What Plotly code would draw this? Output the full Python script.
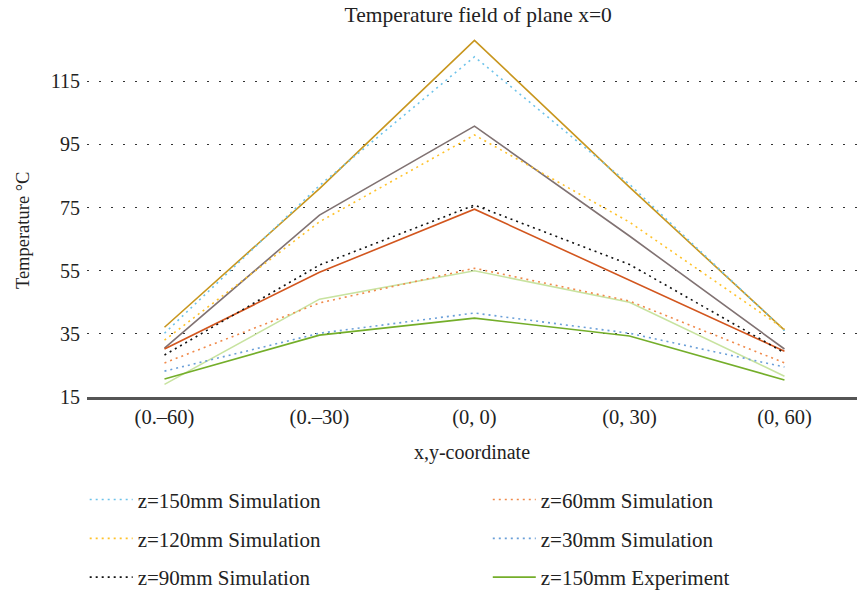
import plotly.graph_objects as go

categories = ["(0.\u201360)", "(0.\u201330)", "(0, 0)", "(0, 30)", "(0, 60)"]

# Simulation series (dotted)
sim_150 = [35.2, 82.0, 122.8, 82.4, 36.0]
sim_120 = [33.0, 70.5, 98.0, 70.4, 36.5]
sim_90 = [28.3, 56.8, 75.8, 57.0, 29.0]
sim_60 = [25.8, 44.8, 55.8, 45.4, 25.8]
sim_30 = [23.2, 35.2, 41.6, 35.2, 24.5]

# Experiment series (solid)
exp_a = [37.1, 81.0, 128.0, 81.5, 36.2]
exp_b = [30.5, 72.6, 100.8, 66.0, 30.2]
exp_c = [30.2, 54.5, 74.5, 52.0, 29.5]
exp_d = [19.0, 46.0, 55.0, 45.0, 21.6]
exp_150 = [20.7, 34.6, 40.0, 34.3, 20.4]

FONT = "Liberation Serif"
TXT = "#222222"
DOT = "2px,4px"

fig = go.Figure()

def sim(y, name, color, legend):
    fig.add_trace(go.Scatter(
        x=categories, y=y, name=name, mode="lines",
        line=dict(color=color, width=1.6, dash=DOT),
        legend=legend, legendgroup=name))

def exp(y, name, color, show, legend="legend"):
    fig.add_trace(go.Scatter(
        x=categories, y=y, name=name, mode="lines",
        line=dict(color=color, width=1.6),
        showlegend=show, legend=legend, legendgroup=name))

exp(exp_a, "Experiment A", "#C8961E", False)
exp(exp_b, "Experiment B", "#807272", False)
exp(exp_c, "Experiment C", "#D2561E", False)
exp(exp_d, "Experiment D", "#C8E3A0", False)

sim(sim_150, "z=150mm Simulation", "#6EC3EA", "legend")
sim(sim_120, "z=120mm Simulation", "#FFC22A", "legend")
sim(sim_90, "z=90mm Simulation", "#111111", "legend")
sim(sim_60, "z=60mm Simulation", "#F08A4B", "legend2")
sim(sim_30, "z=30mm Simulation", "#6A9FD8", "legend2")
exp(exp_150, "z=150mm Experiment", "#74AE2A", True, "legend2")

legend_common = dict(
    orientation="v", traceorder="grouped", tracegroupgap=8.5,
    font=dict(family=FONT, size=21, color=TXT),
    bgcolor="rgba(0,0,0,0)", yanchor="top", xanchor="left",
    itemwidth=43,
)

fig.update_layout(
    width=857, height=597,
    margin=dict(l=87, r=0, t=34, b=200, autoexpand=False),
    paper_bgcolor="white", plot_bgcolor="white",
    font=dict(family=FONT, size=20, color=TXT),
    title=dict(text="Temperature field of plane x=0", x=0.558, xanchor="center",
               y=0.988, yanchor="top", font=dict(family=FONT, size=21.5, color=TXT)),
    legend=dict(x=-0.003, y=-0.227, **legend_common),
    legend2=dict(x=0.5205, y=-0.227, **legend_common),
    xaxis=dict(
        type="category", range=[-0.5, 4.468],
        showline=True, linecolor="#555555", linewidth=2.5,
        showgrid=False, ticks="", zeroline=False,
        tickfont=dict(family=FONT, size=20.5, color=TXT),
        title=dict(text="x,y-coordinate", standoff=17,
                   font=dict(family=FONT, size=20, color=TXT)),
    ),
    yaxis=dict(
        range=[15, 130], tickvals=[15, 35, 55, 75, 95, 115],
        showline=False, zeroline=False, ticks="",
        showgrid=True, gridcolor="#333333", gridwidth=1.2, griddash="1.5px,10.5px",
        tickfont=dict(family=FONT, size=20, color=TXT),
        ticklabelstandoff=6,
    ),
    annotations=[dict(
        text="Temperature \u00b0C", textangle=-90, xref="paper", yref="paper",
        x=-0.083, y=0.46, xanchor="center", yanchor="middle", showarrow=False,
        font=dict(family=FONT, size=18.5, color=TXT),
    )],
)

fig.write_html("out.html")
